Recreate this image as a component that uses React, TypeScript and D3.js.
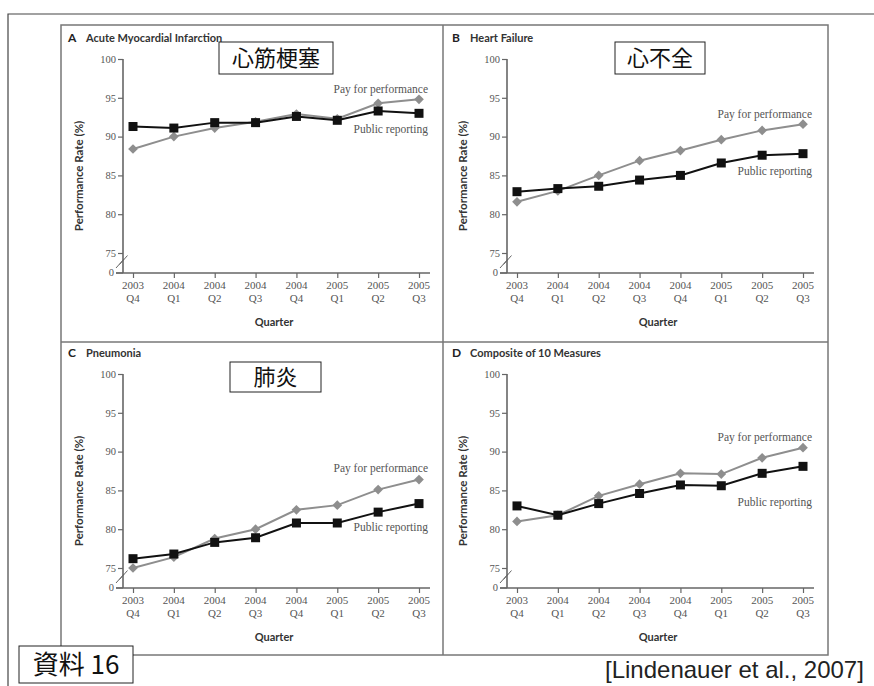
import { useRef, useEffect } from 'react'
import * as d3 from 'd3'

// quarters on the x axis
const years = ['2003', '2004', '2004', '2004', '2004', '2005', '2005', '2005']
const quarterNames = ['Q4', 'Q1', 'Q2', 'Q3', 'Q4', 'Q1', 'Q2', 'Q3']
const quarterKeys = years.map((y, i) => `${y} ${quarterNames[i]}`)

const yTicks = [75, 80, 85, 90, 95, 100]

// performance rate (%)
const amiPay = [88.4, 90.0, 91.1, 91.9, 92.9, 92.3, 94.3, 94.8]
const amiPublic = [91.3, 91.1, 91.8, 91.8, 92.6, 92.1, 93.3, 93.0]
const hfPay = [81.6, 83.0, 85.0, 86.9, 88.2, 89.6, 90.8, 91.6]
const hfPublic = [82.9, 83.3, 83.6, 84.4, 85.0, 86.6, 87.6, 87.8]
const pnPay = [75.0, 76.4, 78.8, 80.0, 82.5, 83.1, 85.1, 86.4]
const pnPublic = [76.2, 76.8, 78.3, 78.9, 80.8, 80.8, 82.2, 83.3]
const compPay = [81.0, 81.8, 84.3, 85.8, 87.2, 87.1, 89.2, 90.5]
const compPublic = [83.0, 81.8, 83.3, 84.6, 85.7, 85.6, 87.2, 88.1]

const panelLetters = ['A', 'B', 'C', 'D']
const panelTitles = ['Acute Myocardial Infarction', 'Heart Failure', 'Pneumonia', 'Composite of 10 Measures']
const panelJapanese = ['心筋梗塞', '心不全', '肺炎', '']
const payLabel = 'Pay for performance'
const publicLabel = 'Public reporting'

const PAY_COLOR = '#8e8e8e'
const PUB_COLOR = '#111'
const AXIS_COLOR = '#666'
const SANS = 'Lato, "Open Sans", sans-serif'
const SERIF = '"Liberation Serif", "DejaVu Serif", serif'
const JP = '"Noto Sans CJK JP", sans-serif'

const App = () => {
  const svgRef = useRef<SVGSVGElement | null>(null)

  useEffect(() => {
    const svg = d3.select(svgRef.current)
    svg.selectAll('*').remove()

    const panels = [
      { dx: 0, dy: 0, pay: amiPay, pub: amiPublic, payY: 96.05, pubY: 90.9, box: [219, 42, 114, 32] },
      { dx: 384, dy: 0, pay: hfPay, pub: hfPublic, payY: 92.9, pubY: 85.5, box: [231, 42, 90, 32] },
      { dx: 0, dy: 315, pay: pnPay, pub: pnPublic, payY: 87.85, pubY: 80.2, box: [230, 47, 91, 30] },
      { dx: 384, dy: 315, pay: compPay, pub: compPublic, payY: 91.8, pubY: 83.5, box: null },
    ]

    // slide frame
    svg.append('path')
      .attr('d', 'M8,686 V14 H874')
      .attr('fill', 'none')
      .attr('stroke', '#444')
      .attr('stroke-width', 1.2)

    // figure frame
    const frame = svg.append('g').attr('stroke', '#777').attr('stroke-width', 1.5).attr('fill', 'none')
    frame.append('rect').attr('x', 61).attr('y', 25).attr('width', 767).attr('height', 630)
    frame.append('line').attr('x1', 61).attr('x2', 828).attr('y1', 342).attr('y2', 342)
    frame.append('line').attr('x1', 443).attr('x2', 443).attr('y1', 25).attr('y2', 655)

    const xScale = d3.scalePoint<string>().domain(quarterKeys).range([133, 419])
    const yScale = d3.scaleLinear().domain([75, 100]).range([253, 59])
    const axisX = 123
    const zeroY = 273

    panels.forEach((p, pi) => {
      const g = svg.append('g').attr('transform', `translate(${p.dx},${p.dy})`)

      // title
      g.append('text')
        .attr('x', 68).attr('y', 42)
        .attr('font-family', SANS).attr('font-weight', 700).attr('font-size', 12)
        .attr('fill', '#222')
        .text(panelLetters[pi])
      g.append('text')
        .attr('x', 86).attr('y', 42)
        .attr('font-family', SANS).attr('font-weight', 700).attr('font-size', 11)
        .attr('fill', '#333')
        .text(panelTitles[pi])

      // y axis
      const yAxisG = g.append('g')
        .attr('transform', `translate(${axisX},0)`)
        .call(d3.axisLeft(yScale).tickValues(yTicks).tickSize(5).tickPadding(2).tickFormat(d3.format('d')))
      yAxisG.select('.domain').remove()
      yAxisG.append('line').attr('x1', 0).attr('x2', 0).attr('y1', yScale(100)).attr('y2', zeroY)
        .attr('stroke', AXIS_COLOR).attr('stroke-width', 1.6)
      yAxisG.selectAll('.tick line').attr('stroke', AXIS_COLOR).attr('stroke-width', 1.2)
      yAxisG.selectAll('.tick text')
        .attr('font-family', SERIF).attr('font-size', 10.5).attr('fill', '#555')
      // zero and break marks
      yAxisG.append('line').attr('x1', -7).attr('x2', 0).attr('y1', zeroY).attr('y2', zeroY)
        .attr('stroke', AXIS_COLOR).attr('stroke-width', 1.2)
      yAxisG.append('text').attr('x', -9).attr('y', zeroY).attr('dy', '0.32em')
        .attr('text-anchor', 'end').attr('font-family', SERIF).attr('font-size', 10.5).attr('fill', '#555')
        .text('0')
      ;[-2, 1.5].forEach((o) => {
        yAxisG.append('line')
          .attr('x1', -5 + o).attr('y1', 266 - o)
          .attr('x2', 3 + o).attr('y2', 257 - o)
          .attr('stroke', AXIS_COLOR).attr('stroke-width', 1)
      })

      // y label
      g.append('text')
        .attr('transform', `translate(83,${(yScale(100) + zeroY) / 2 + 10}) rotate(-90)`)
        .attr('text-anchor', 'middle')
        .attr('font-family', SANS).attr('font-weight', 700).attr('font-size', 11.5).attr('fill', '#333')
        .text('Performance Rate (%)')

      // x axis
      const xAxisG = g.append('g')
        .attr('transform', `translate(0,${zeroY})`)
        .call(d3.axisBottom(xScale).tickSize(5).tickFormat(() => ''))
      xAxisG.select('.domain').remove()
      xAxisG.append('line').attr('x1', 116).attr('x2', 430).attr('y1', 0).attr('y2', 0)
        .attr('stroke', AXIS_COLOR).attr('stroke-width', 1.6)
      xAxisG.selectAll('.tick line').attr('stroke', AXIS_COLOR).attr('stroke-width', 1.2)
      quarterKeys.forEach((k, i) => {
        const t = xAxisG.append('text')
          .attr('x', xScale(k)!).attr('y', 16)
          .attr('text-anchor', 'middle')
          .attr('font-family', SERIF).attr('font-size', 11).attr('fill', '#555')
        t.append('tspan').attr('x', xScale(k)!).text(years[i])
        t.append('tspan').attr('x', xScale(k)!).attr('dy', 13).text(quarterNames[i])
      })
      g.append('text')
        .attr('x', 274).attr('y', 326)
        .attr('text-anchor', 'middle')
        .attr('font-family', SANS).attr('font-weight', 700).attr('font-size', 11).attr('fill', '#333')
        .text('Quarter')

      // series
      const line = d3.line<number>()
        .x((_, i) => xScale(quarterKeys[i])!)
        .y((d) => yScale(d))

      g.append('path').attr('d', line(p.pay)).attr('fill', 'none')
        .attr('stroke', PAY_COLOR).attr('stroke-width', 2)
      g.selectAll('.pay-pt').data(p.pay).join('path')
        .attr('class', 'pay-pt')
        .attr('d', d3.symbol(d3.symbolDiamond2, 60)())
        .attr('transform', (d, i) => `translate(${xScale(quarterKeys[i])},${yScale(d)})`)
        .attr('fill', PAY_COLOR)

      g.append('path').attr('d', line(p.pub)).attr('fill', 'none')
        .attr('stroke', PUB_COLOR).attr('stroke-width', 2)
      g.selectAll('.pub-pt').data(p.pub).join('rect')
        .attr('class', 'pub-pt')
        .attr('x', (_, i) => xScale(quarterKeys[i])! - 4.5)
        .attr('y', (d) => yScale(d) - 4.5)
        .attr('width', 9).attr('height', 9)
        .attr('fill', PUB_COLOR)

      // series labels
      g.append('text')
        .attr('x', 428).attr('y', yScale(p.payY)).attr('dy', '0.32em')
        .attr('text-anchor', 'end')
        .attr('font-family', SERIF).attr('font-size', 11.5).attr('fill', '#555')
        .text(payLabel)
      g.append('text')
        .attr('x', 428).attr('y', yScale(p.pubY)).attr('dy', '0.32em')
        .attr('text-anchor', 'end')
        .attr('font-family', SERIF).attr('font-size', 11.5).attr('fill', '#555')
        .text(publicLabel)

      // japanese label box
      if (p.box) {
        const [bx, by, bw, bh] = p.box
        g.append('rect').attr('x', bx).attr('y', by).attr('width', bw).attr('height', bh)
          .attr('fill', '#fff').attr('stroke', '#222').attr('stroke-width', 1)
        g.append('text')
          .attr('x', bx + bw / 2).attr('y', by + bh / 2).attr('dy', '0.36em')
          .attr('text-anchor', 'middle')
          .attr('font-family', JP).attr('font-size', 22).attr('fill', '#111')
          .text(panelJapanese[pi])
      }
    })

    // footer
    svg.append('rect').attr('x', 19).attr('y', 646).attr('width', 114).attr('height', 37)
      .attr('fill', '#fff').attr('stroke', '#222').attr('stroke-width', 1)
    svg.append('text')
      .attr('x', 76).attr('y', 665).attr('dy', '0.36em')
      .attr('text-anchor', 'middle')
      .attr('font-family', JP).attr('font-size', 26).attr('fill', '#111')
      .text('資料 16')
    svg.append('text')
      .attr('x', 605).attr('y', 678)
      .attr('font-family', '"Liberation Sans", Arial, sans-serif').attr('font-size', 24).attr('fill', '#222')
      .text('[Lindenauer et al., 2007]')
  }, [])

  return (
    <svg
      ref={svgRef}
      width={874}
      height={686}
      style={{ position: 'absolute', left: 0, top: 0, background: '#fff' }}
    />
  )
}

export default App
